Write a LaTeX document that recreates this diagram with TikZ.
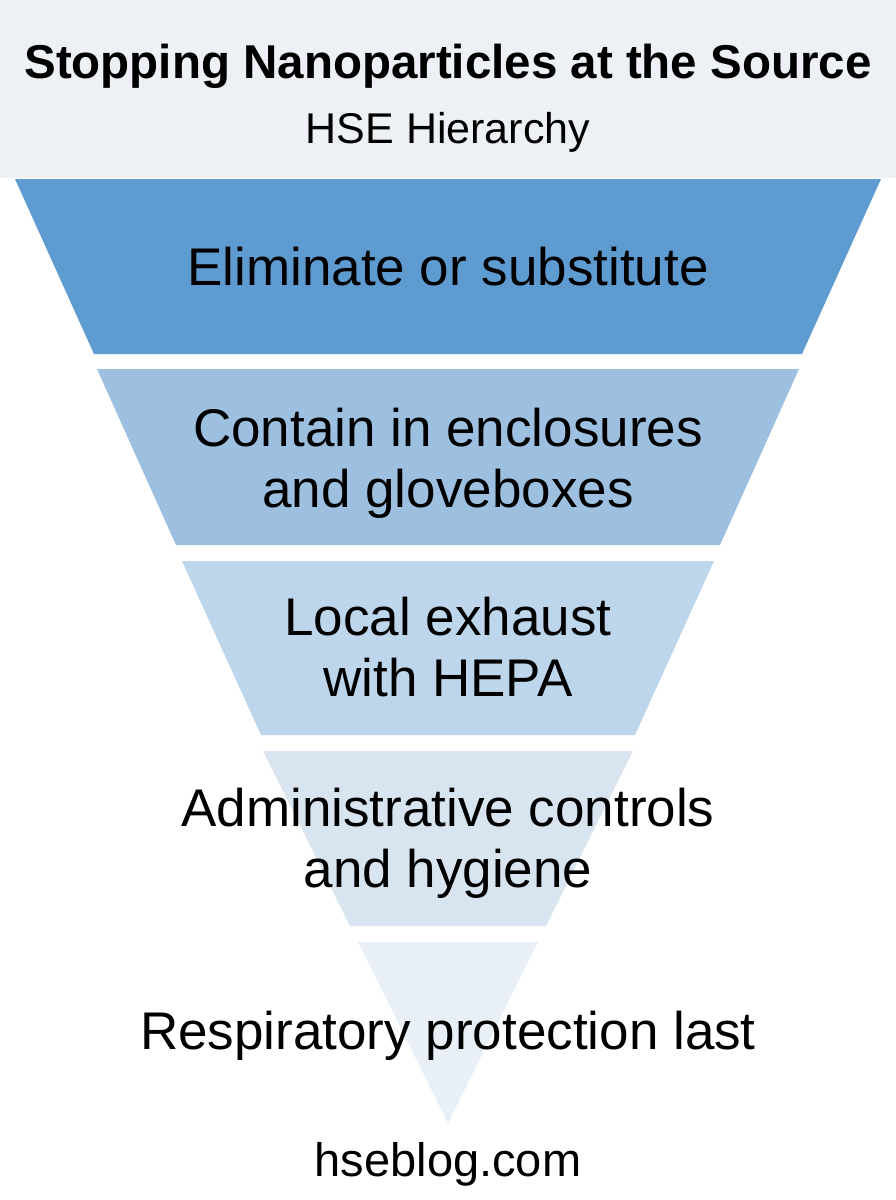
\documentclass[tikz,border=0pt]{standalone}
\usepackage{fontspec}
\setmainfont{Liberation Sans}
\usepackage{tikz}

\definecolor{headgray}{RGB}{237,241,245}
\definecolor{tierA}{RGB}{94,155,208}
\definecolor{tierB}{RGB}{157,192,224}
\definecolor{tierC}{RGB}{190,214,235}
\definecolor{tierD}{RGB}{216,229,241}
\definecolor{tierE}{RGB}{232,239,246}

\begin{document}
\begin{tikzpicture}[x=1pt,y=1pt]
\tikzstyle{every node}+=[inner sep=0pt]
\tikzstyle{tier}=[font=\fontsize{53}{61}\selectfont, align=center]
\useasboundingbox (0,0) rectangle (896,-1200);
\fill [white] (0,0) rectangle (896,-1200);
\fill [headgray] (0,0) rectangle (896,-178);
\draw (448,-78) node (title) [anchor=base, font=\bfseries\fontsize{47.5}{56}\selectfont] {Stopping Nanoparticles at the Source};
\draw (448,-143) node (subtitle) [anchor=base, font=\fontsize{43}{51}\selectfont] {HSE Hierarchy};
\fill [tierA] (15,-179) -- (881,-179) -- (802,-354) -- (94,-354) -- cycle;
\draw (448,-285) node (eliminate) [tier, anchor=base] {Eliminate or substitute};
\fill [tierB] (97,-369) -- (799,-369) -- (720,-545) -- (176,-545) -- cycle;
\draw (448,-463) node (contain) [tier] {Contain in enclosures\\and gloveboxes};
\fill [tierC] (182,-561) -- (714,-561) -- (635,-735) -- (261,-735) -- cycle;
\draw (448,-647) node (exhaust) [tier] {Local exhaust\\with HEPA};
\fill [tierD] (263,-751) -- (633,-751) -- (546,-926) -- (350,-926) -- cycle;
\draw (448,-843) node (admin) [tier] {Administrative controls\\and hygiene};
\fill [tierE] (358,-942) -- (538,-942) -- (448,-1123) -- cycle;
\draw (448,-1049) node (respirator) [tier, anchor=base] {Respiratory protection last};
\draw (448,-1176) node (source) [anchor=base, font=\fontsize{47}{56}\selectfont] {hseblog.com};
\end{tikzpicture}
\end{document}
